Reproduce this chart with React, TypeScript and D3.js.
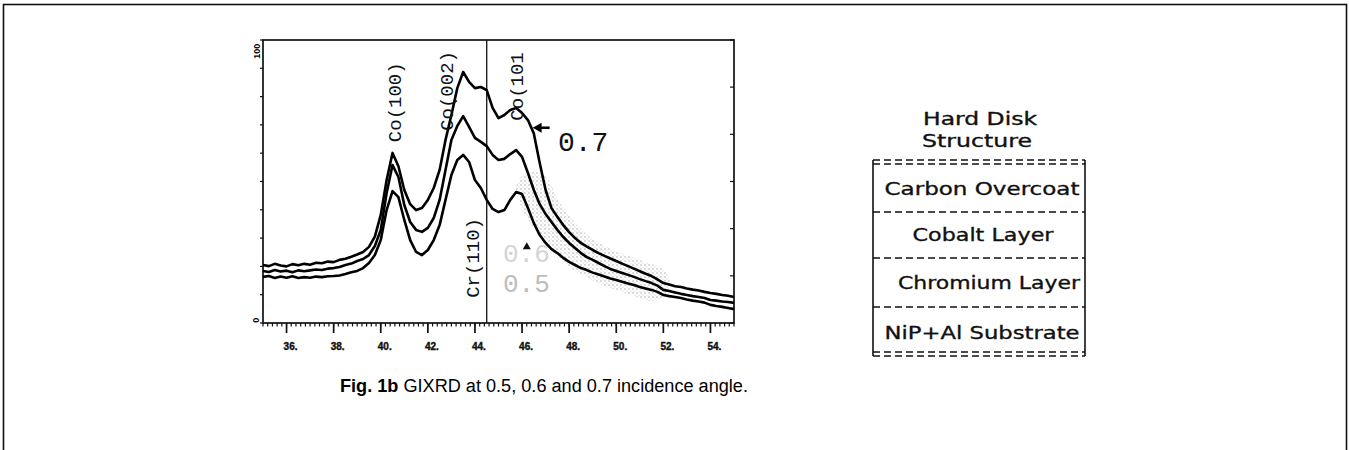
import React, { useEffect, useRef } from 'react';
import * as d3 from 'd3';

// 2-theta sampling (degrees)
const ANGLES = [
  35, 35.25, 35.5, 35.75, 36, 36.25, 36.5, 36.75, 37, 37.25, 37.5, 37.75,
  38, 38.25, 38.5, 38.75, 39, 39.25, 39.5, 39.75, 40, 40.25, 40.5, 40.75,
  41, 41.25, 41.5, 41.75, 42, 42.25, 42.5, 42.75, 43, 43.25, 43.5, 43.75,
  44, 44.25, 44.5, 44.75, 45, 45.25, 45.5, 45.75, 46, 46.25, 46.5, 46.75,
  47, 47.25, 47.5, 47.75, 48, 48.25, 48.5, 48.75, 49, 49.25, 49.5, 49.75,
  50, 50.25, 50.5, 50.75, 51, 51.25, 51.5, 51.75, 52, 52.25, 52.5, 52.75,
  53, 53.25, 53.5, 53.75, 54, 54.25, 54.5, 54.75, 55,
];

// relative intensity (0-100) at 0.7 deg incidence
const I_07 = [
  20.5, 20.1, 20.9, 20.3, 20.0, 20.8, 20.4, 20.9, 20.6, 21.3, 21.1, 21.7,
  21.5, 22.3, 22.7, 23.4, 24.2, 25.1, 26.9, 30.5, 38.2, 50.5, 60.1, 55.4,
  47.0, 42.0, 39.9, 40.6, 43.5, 47.7, 54.1, 64.7, 73.5, 83.0, 88.7, 85.2,
  83.0, 83.4, 82.3, 76.0, 72.4, 73.5, 75.3, 76.0, 74.2, 71.7, 67.0, 56.5,
  47.0, 40.6, 37.5, 34.6, 32.1, 30.0, 28.3, 27.0, 25.8, 24.7, 23.7, 22.8,
  21.9, 21.0, 20.1, 19.2, 18.3, 17.4, 16.6, 15.4, 14.1, 13.6, 13.0, 12.7,
  12.2, 11.8, 11.5, 11.0, 10.6, 10.3, 9.9, 9.6, 9.2,
];

// 0.6 deg incidence
const I_06 = [
  18.4, 18.0, 18.7, 18.2, 18.5, 17.9, 18.6, 18.3, 18.6, 18.9, 18.7, 19.2,
  19.4, 19.8, 20.5, 21.0, 21.9, 22.6, 24.0, 27.2, 32.9, 45.9, 55.8, 51.6,
  41.7, 35.7, 32.9, 32.2, 33.6, 37.1, 43.5, 54.1, 64.7, 69.6, 73.1, 69.3,
  65.4, 64.0, 62.5, 59.4, 57.6, 58.0, 59.7, 61.1, 58.7, 53.0, 47.0, 42.0,
  38.5, 35.7, 32.9, 30.4, 28.3, 26.5, 24.7, 23.3, 22.3, 21.2, 20.1, 19.1,
  18.4, 17.7, 17.0, 16.3, 15.5, 14.8, 14.1, 13.2, 11.7, 11.3, 10.8, 10.3,
  9.9, 9.5, 9.2, 8.8, 8.1, 7.9, 7.6, 7.4, 7.1,
];

// 0.5 deg incidence
const I_05 = [
  16.3, 16.6, 15.9, 16.4, 16.0, 16.5, 15.9, 16.2, 16.0, 16.4, 16.2, 16.5,
  16.6, 16.8, 17.3, 17.9, 18.4, 19.4, 21.2, 24.0, 29.3, 39.9, 46.6, 44.5,
  36.4, 29.3, 25.1, 24.0, 25.8, 29.3, 34.6, 43.5, 52.3, 57.6, 59.4, 56.9,
  50.5, 47.7, 43.5, 40.3, 39.2, 39.9, 43.5, 46.3, 45.6, 40.6, 35.3, 31.1,
  28.3, 26.1, 24.7, 23.0, 21.6, 20.5, 19.4, 18.7, 17.8, 17.1, 16.4, 15.7,
  15.2, 14.6, 14.0, 13.4, 12.7, 12.2, 11.7, 11.0, 9.9, 9.5, 9.2, 8.8,
  8.3, 7.9, 7.6, 7.2, 6.4, 6.0, 5.7, 5.3, 4.9,
];

const MAJOR_TICKS = [36, 38, 40, 42, 44, 46, 48, 50, 52, 54];
const MAJOR_LABELS = ['36.', '38.', '40.', '42.', '44.', '46.', '48.', '50.', '52.', '54.'];

// label sits at labelAngle, centred at labelLevel (intensity units)
const PEAKS = [
  { label: 'Co(100)', labelAngle: 40.85, labelLevel: 78 },
  { label: 'Co(002)', labelAngle: 43.05, labelLevel: 82 },
];

const LAYERS = ['Carbon Overcoat', 'Cobalt Layer', 'Chromium Layer', 'NiP+Al Substrate'];

const MONO = "'Liberation Mono', 'DejaVu Sans Mono', monospace";

export default function App() {
  const svgRef = useRef<SVGSVGElement>(null);

  useEffect(() => {
    const svg = d3.select(svgRef.current);
    svg.selectAll('*').remove();

    const x = d3.scaleLinear().domain([35, 55]).range([263, 734]);
    const y = d3.scaleLinear().domain([0, 100]).range([323, 40]);

    // page frame
    svg.append('rect')
      .attr('x', 3.5).attr('y', 4.5)
      .attr('width', 1343).attr('height', 480)
      .attr('fill', 'none').attr('stroke', '#111').attr('stroke-width', 1.6);

    // stipple pattern for the scanned halo
    const defs = svg.append('defs');
    const pat = defs.append('pattern')
      .attr('id', 'stipple').attr('width', 4).attr('height', 4)
      .attr('patternUnits', 'userSpaceOnUse');
    pat.append('circle').attr('cx', 1).attr('cy', 1).attr('r', 0.75).attr('fill', '#9a9a9a');
    pat.append('circle').attr('cx', 3).attr('cy', 3).attr('r', 0.55).attr('fill', '#b8b8b8');

    const line = d3.line<number>()
      .x((d, i) => x(ANGLES[i]))
      .y(d => y(d));

    // halo around the tails
    const haloIdx = ANGLES.map((a, i) => i).filter(i => ANGLES[i] >= 46.5 && ANGLES[i] <= 51.5);
    svg.append('path')
      .attr('d', d3.line<number>().x(i => x(ANGLES[i])).y(i => y(I_06[i]))(haloIdx))
      .attr('fill', 'none').attr('stroke', 'url(#stipple)')
      .attr('stroke-width', 36).attr('stroke-linecap', 'round').attr('opacity', 0.9);

    // plot box
    svg.append('rect')
      .attr('x', x(35)).attr('y', y(100))
      .attr('width', x(55) - x(35)).attr('height', y(0) - y(100))
      .attr('fill', 'none').attr('stroke', '#111').attr('stroke-width', 1.7);

    // Cr(110) marker line
    svg.append('line')
      .attr('x1', x(44.5)).attr('x2', x(44.5))
      .attr('y1', y(100)).attr('y2', y(0))
      .attr('stroke', '#111').attr('stroke-width', 1.3);

    // x axis ticks
    const minor = d3.range(35, 55.001, 0.2);
    svg.append('g').selectAll('line').data(minor).join('line')
      .attr('x1', d => x(d)).attr('x2', d => x(d))
      .attr('y1', y(0)).attr('y2', y(0) + 3.5)
      .attr('stroke', '#111').attr('stroke-width', 1.2);
    svg.append('g').selectAll('line').data(MAJOR_TICKS).join('line')
      .attr('x1', d => x(d)).attr('x2', d => x(d))
      .attr('y1', y(0)).attr('y2', y(0) + 10)
      .attr('stroke', '#111').attr('stroke-width', 1.7);
    svg.append('g').selectAll('text').data(MAJOR_TICKS).join('text')
      .attr('x', d => x(d) + 4).attr('y', y(0) + 27)
      .attr('text-anchor', 'middle')
      .style('font-family', "'Liberation Sans', Arial, sans-serif")
      .style('font-size', '10px').style('font-weight', 900)
      .attr('fill', '#111').attr('stroke', '#111').attr('stroke-width', 0.4)
      .text((d, i) => MAJOR_LABELS[i]);

    // y axis ticks (left outward, right inward)
    const yt = d3.range(0, 101, 10);
    svg.append('g').selectAll('line').data(yt).join('line')
      .attr('x1', x(35) - 3).attr('x2', x(35))
      .attr('y1', d => y(d)).attr('y2', d => y(d))
      .attr('stroke', '#111').attr('stroke-width', 1.2);
    svg.append('g').selectAll('line').data(d3.range(0, 101, 16.67)).join('line')
      .attr('x1', x(55) - 4).attr('x2', x(55))
      .attr('y1', d => y(d)).attr('y2', d => y(d))
      .attr('stroke', '#111').attr('stroke-width', 1.2);
    svg.append('text')
      .attr('transform', `translate(${x(35) - 3},${y(96)}) rotate(-90)`)
      .attr('text-anchor', 'middle')
      .style('font-family', "'Liberation Sans', Arial, sans-serif")
      .style('font-size', '9px').style('font-weight', 900)
      .text('100');
    svg.append('text')
      .attr('transform', `translate(${x(35) - 4},${y(1)}) rotate(-90)`)
      .attr('text-anchor', 'middle')
      .style('font-family', "'Liberation Sans', Arial, sans-serif")
      .style('font-size', '9px').style('font-weight', 900)
      .text('0');

    // the three scans
    [I_07, I_06, I_05].forEach(s => {
      svg.append('path')
        .attr('d', line(s))
        .attr('fill', 'none').attr('stroke', '#000')
        .attr('stroke-width', 2.6).attr('stroke-linejoin', 'round');
    });

    // peak labels
    PEAKS.forEach(p => {
      svg.append('text')
        .attr('transform', `translate(${x(p.labelAngle)},${y(p.labelLevel)}) rotate(-90)`)
        .attr('text-anchor', 'middle')
        .style('font-family', MONO).style('font-size', '19px')
        .attr('fill', '#111')
        .text(p.label);
    });
    svg.append('text')
      .attr('transform', `translate(${x(45.8) + 6},${y(71.5)}) rotate(-90)`)
      .style('font-family', MONO).style('font-size', '19px')
      .attr('fill', '#111')
      .text('Co(101');
    svg.append('text')
      .attr('transform', `translate(${x(44.5) - 8},${y(23)}) rotate(-90)`)
      .attr('text-anchor', 'middle')
      .style('font-family', MONO).style('font-size', '19px')
      .attr('fill', '#111')
      .text('Cr(110)');

    // 0.7 pointer
    svg.append('line')
      .attr('x1', x(46.45) + 6).attr('x2', x(46.45) + 17)
      .attr('y1', y(69)).attr('y2', y(69))
      .attr('stroke', '#000').attr('stroke-width', 2.5);
    svg.append('path')
      .attr('d', `M${x(46.45)},${y(69)} l9,-5 l0,10 z`)
      .attr('fill', '#000');
    svg.append('text')
      .attr('x', 558).attr('y', 151)
      .style('font-family', MONO).style('font-size', '28px')
      .attr('fill', '#111')
      .text('0.7');

    // faded labels for the lower angles
    svg.append('text')
      .attr('x', 503).attr('y', 262)
      .style('font-family', MONO).style('font-size', '26px')
      .attr('fill', '#d4d4d4')
      .text('0.6');
    svg.append('text')
      .attr('x', 503).attr('y', 292)
      .style('font-family', MONO).style('font-size', '26px')
      .attr('fill', '#bdbdbd')
      .text('0.5');
    svg.append('path')
      .attr('d', `M${x(46.2)},${y(28.5)} l-4,7 l8,0 z`)
      .attr('fill', '#111');

    // hard disk structure diagram
    const dg = svg.append('g').style('font-family', "'DejaVu Sans', Verdana, sans-serif");
    const heading = [
      { t: 'Hard Disk', cx: 980, by: 125, w: 114 },
      { t: 'Structure', cx: 977, by: 147, w: 110 },
    ];
    heading.forEach(h => {
      dg.append('text')
        .attr('x', h.cx).attr('y', h.by).attr('text-anchor', 'middle')
        .attr('textLength', h.w).attr('lengthAdjust', 'spacingAndGlyphs')
        .style('font-size', '17px').attr('fill', '#111')
        .attr('stroke', '#111').attr('stroke-width', 0.35)
        .text(h.t);
    });
    const bx0 = 873, bx1 = 1085;
    const dashY = [160, 164, 212, 258, 307, 352, 356];
    dashY.forEach(v => {
      dg.append('line')
        .attr('x1', bx0).attr('x2', bx1).attr('y1', v).attr('y2', v)
        .attr('stroke', '#111').attr('stroke-width', 1.5)
        .attr('stroke-dasharray', '7,4');
    });
    [bx0, bx1].forEach(v => {
      dg.append('line')
        .attr('x1', v).attr('x2', v).attr('y1', 160).attr('y2', 356)
        .attr('stroke', '#111').attr('stroke-width', 1.6);
    });
    const layerPos = [
      { cx: 982, by: 195, w: 195 },
      { cx: 983, by: 241, w: 141 },
      { cx: 989, by: 289, w: 182 },
      { cx: 982, by: 339, w: 195 },
    ];
    LAYERS.forEach((l, i) => {
      dg.append('text')
        .attr('x', layerPos[i].cx).attr('y', layerPos[i].by).attr('text-anchor', 'middle')
        .attr('textLength', layerPos[i].w).attr('lengthAdjust', 'spacingAndGlyphs')
        .style('font-size', '18px').attr('fill', '#111')
        .attr('stroke', '#111').attr('stroke-width', 0.35)
        .text(l);
    });

    // caption
    const cap = svg.append('text')
      .attr('x', 340).attr('y', 392)
      .attr('textLength', 408).attr('lengthAdjust', 'spacingAndGlyphs')
      .style('font-family', "'Liberation Sans', Arial, sans-serif")
      .style('font-size', '18px').attr('fill', '#000');
    cap.append('tspan').style('font-weight', 'bold').text('Fig. 1b');
    cap.append('tspan').text(' GIXRD at 0.5, 0.6 and 0.7 incidence angle.');
  }, []);

  return (
    <svg
      ref={svgRef}
      width={1349}
      height={450}
      style={{ position: 'absolute', left: 0, top: 0, background: '#fff' }}
    />
  );
}
